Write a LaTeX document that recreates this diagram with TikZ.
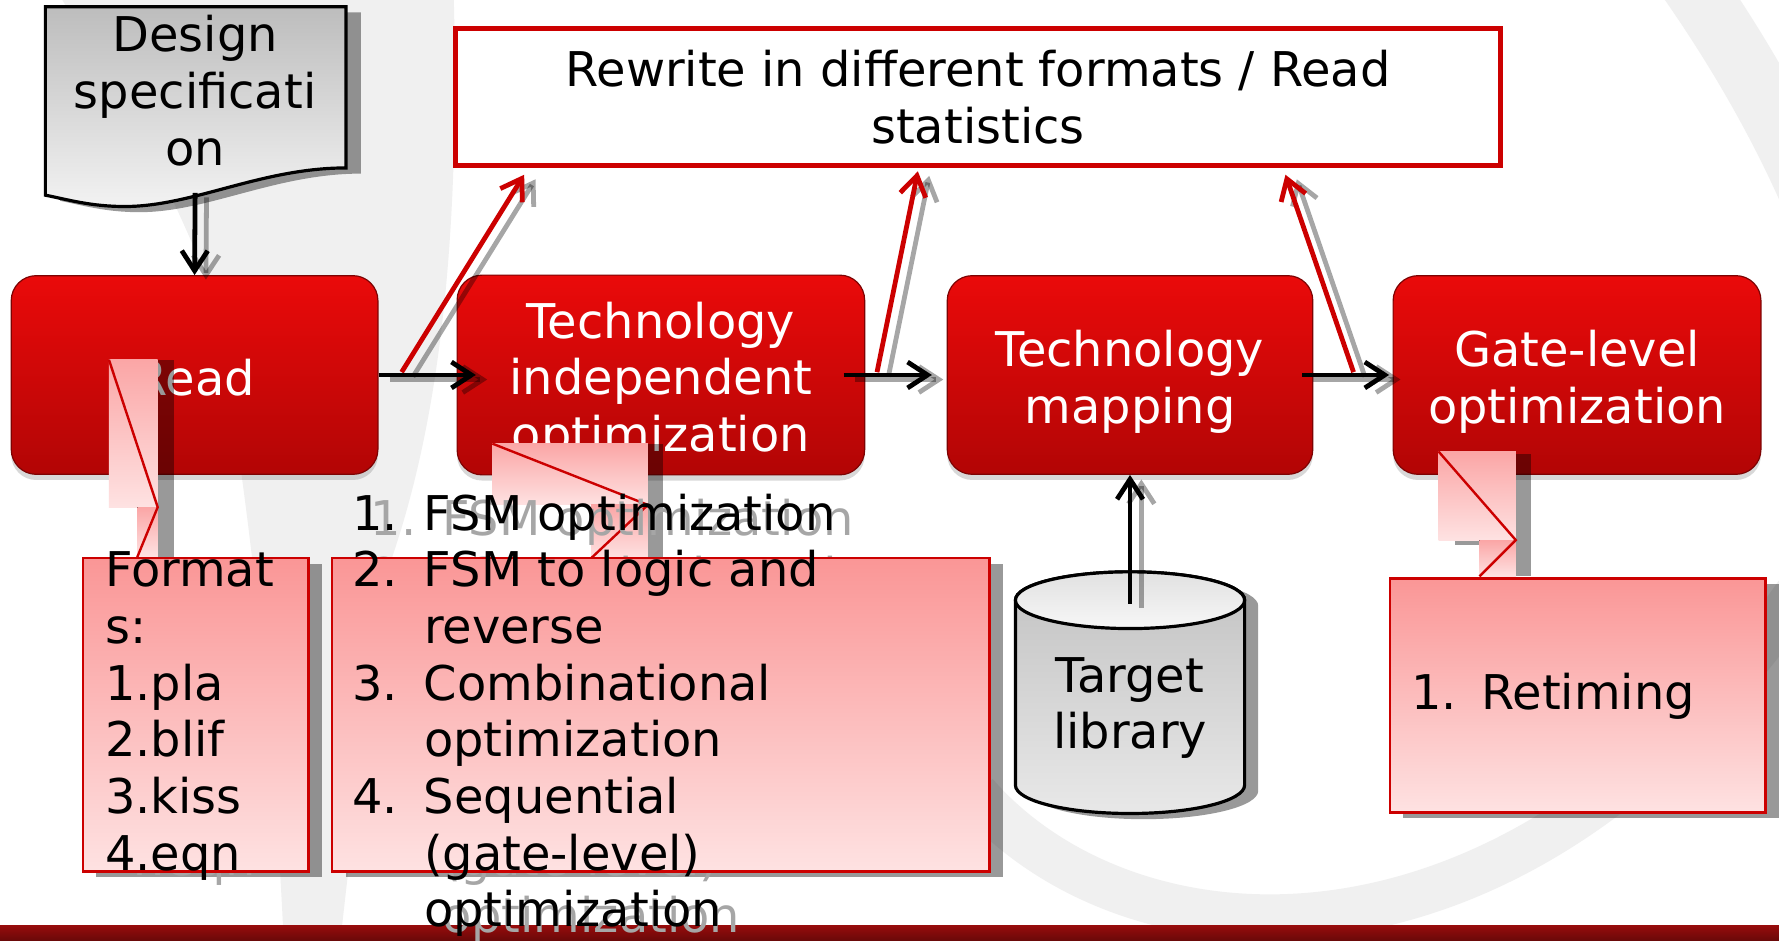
\documentclass[tikz,border=0pt]{standalone}
\usepackage{fontspec}
\setmainfont{DejaVu Sans}
\usetikzlibrary{arrows.meta,shadows}

\definecolor{stagetop}{RGB}{234,10,10}
\definecolor{stagebot}{RGB}{178,5,5}
\definecolor{noteedge}{RGB}{204,0,0}
\definecolor{notetop}{RGB}{250,150,150}
\definecolor{notebot}{RGB}{254,226,226}
\definecolor{swoosh}{RGB}{240,240,240}
\definecolor{barred}{RGB}{150,12,12}

\newcommand\optlist{%
  \begin{tabular}{@{}p{0.63cm}@{}l@{}}
    1. & FSM optimization\\
    2. & FSM to logic and\\
       & reverse\\
    3. & Combinational\\
       & optimization\\
    4. & Sequential\\
       & (gate-level)\\
       & optimization
  \end{tabular}}

\newcommand\fmtlist{%
  \begin{tabular}{@{}l@{}}
    Format\\ s:\\ 1.pla\\ 2.blif\\ 3.kiss\\ 4.eqn
  \end{tabular}}

% first line of a stage label, pushed down a little
\newcommand\hd{\rule{0pt}{12.5pt}}

\begin{document}
\begin{tikzpicture}[x=0.01cm, y=-0.01cm,
    stage/.style = {rectangle, rounded corners=0.22cm, top color=stagetop, bottom color=stagebot,
                    draw=stagebot!70!black, line width=0.3pt, minimum height=1.75cm,
                    text=white, align=center, font=\fontsize{12}{14.2}\selectfont,
                    drop shadow={opacity=0.3, shadow xshift=0pt, shadow yshift=-0.05cm}},
    note/.style = {rectangle, top color=notetop, bottom color=notebot, draw=noteedge, line width=0.6pt},
    strip/.style = {top color=notetop!85!white, bottom color=notebot},
    ghost/.style = {fill=black, opacity=0.4},
    listtext/.style = {anchor=west, inner sep=0pt, font=\fontsize{12}{14.2}\selectfont},
    flow/.style = {draw=black, line width=1.2pt, -{Straight Barb[length=5pt, width=6.5pt]}},
    upflow/.style = {draw=noteedge, line width=1.2pt, -{Straight Barb[length=5pt, width=6.5pt]}},
    flowghost/.style = {draw=black, opacity=0.35, transform canvas={xshift=0.1cm, yshift=-0.04cm}}
]
\useasboundingbox (0,0) rectangle (1568,829);
\fill[white] (0,0) rectangle (1568,829);

% background swooshes
\fill[swoosh] (55,0) -- (400,0) .. controls (405,200) and (390,380) .. (335,520)
              -- (300,829) -- (250,829) .. controls (240,600) and (205,320) .. (180,240)
              .. controls (140,140) and (90,60) .. cycle;
\draw[swoosh, line width=0.55cm] (1480,-30) .. controls (1530,40) and (1570,110) .. (1600,180);
\draw[swoosh, line width=0.4cm] (860,700) .. controls (1000,860) and (1350,880) .. (1600,500);

% bottom bar
\shade[top color=barred, bottom color=barred!70!black] (0,816) rectangle (1568,829);

% top box
\node[draw=noteedge, line width=1.2pt, fill=white, minimum width=9.2cm, minimum height=1.21cm,
      align=center, font=\fontsize{12}{14.2}\selectfont] (rewrite) at (862,85.5)
      {Rewrite in different formats / Read\\statistics};

% design specification document
\fill[ghost, transform canvas={xshift=0.13cm, yshift=-0.05cm}] (40,6) -- (305,6) -- (305,148)
      .. controls (230,148) and (170,182) .. (110,182) .. controls (80,182) and (60,176) .. (40,172) -- cycle;
\draw[top color=black!26, bottom color=black!5, line width=0.8pt] (40,6) -- (305,6) -- (305,148)
      .. controls (230,148) and (170,182) .. (110,182) .. controls (80,182) and (60,176) .. (40,172) -- cycle;
\node[align=center, font=\fontsize{12}{14.2}\selectfont] (spec) at (172,80) {Design\\specificati\\on};

% stages
\node[stage, minimum width=3.23cm] (read) at (171.5,330.5) {\rule{0pt}{10.5pt}Read};
\node[stage, minimum width=3.59cm] (techind) at (582.5,330.5) {\hd Technology\\independent\\optimization};
\node[stage, minimum width=3.22cm] (techmap) at (996,330.5) {\hd Technology\\mapping};
\node[stage, minimum width=3.24cm] (gatelvl) at (1390,330.5) {\hd Gate-level\\optimization};

% arrows to the top box
\coordinate (up1) at (354,328);
\coordinate (top1) at (462,154);
\coordinate (up2) at (773,328);
\coordinate (top2) at (809,151);
\coordinate (up3) at (1193,328);
\coordinate (top3) at (1133,154);
\draw[upflow, flowghost] (up1) -- (top1);
\draw[upflow, flowghost] (up2) -- (top2);
\draw[upflow, flowghost] (up3) -- (top3);
\draw[upflow] (up1) -- (top1);
\draw[upflow] (up2) -- (top2);
\draw[upflow] (up3) -- (top3);

% main flow
\coordinate (specfoot) at (172,170);
\draw[flow, flowghost] (specfoot) -- (read.north);
\draw[flow] (specfoot) -- (read.north);
\draw[flow, flowghost, shorten >=-0.17cm] (read.east) -- (techind.west);
\draw[flow, shorten >=-0.17cm] (read.east) -- (techind.west);
\draw[flow, flowghost, shorten <=-0.19cm, shorten >=0.13cm] (techind.east) -- (techmap.west);
\draw[flow, shorten <=-0.19cm, shorten >=0.13cm] (techind.east) -- (techmap.west);
\draw[flow, flowghost, shorten <=-0.10cm, shorten >=0.03cm] (techmap.east) -- (gatelvl.west);
\draw[flow, shorten <=-0.10cm, shorten >=0.03cm] (techmap.east) -- (gatelvl.west);

% formats callout
\fill[ghost] (85,497) rectangle (284,773);
\fill[ghost] (139,317) rectangle (153,491);
\fill[strip] (96,317) rectangle (139,447);
\fill[strip] (121,447) rectangle (139,491);
\draw[noteedge, line width=0.6pt] (96,317) -- (139,447) -- (121,491);
\node[listtext, text=black!35] at (105,637) {\fmtlist};
\node[note, minimum width=1.99cm, minimum height=2.76cm] (fmtnote) at (172.5,630) {};
\node[listtext] (fmt) at (92,632) {\fmtlist};

% optimization callout
\fill[ghost] (305,497) rectangle (884,773);
\fill[ghost] (571,391) rectangle (584,492);
\fill[strip] (434,391) rectangle (571,445);
\fill[strip] (521,445) rectangle (571,492);
\draw[noteedge, line width=0.6pt] (434,391) -- (571,445) -- (521,492);
\node[listtext, text=black!35] at (326,637) {\optlist};
\node[note, minimum width=5.79cm, minimum height=2.76cm] (optnote) at (582.5,630) {};
\node[listtext] (opt) at (310,632) {\optlist};

% retiming callout
\fill[ghost] (1237,515) rectangle (1568,721);
\fill[ghost] (1336,400) rectangle (1349,508);
\fill[ghost] (1282,476) rectangle (1336,480);
\fill[strip] (1268,398) rectangle (1336,476);
\fill[strip] (1304,476) rectangle (1336,508);
\draw[noteedge, line width=0.6pt] (1268,398) -- (1336,476) -- (1304,508);
\node[note, minimum width=3.31cm, minimum height=2.06cm] (retnote) at (1390.5,613) {};
\node[listtext] (ret) at (1243,615) {\begin{tabular}{@{}p{0.62cm}@{}l@{}}1. & Retiming\end{tabular}};

% target library
\fill[ghost, transform canvas={xshift=0.12cm, yshift=-0.05cm}] (895,529) -- (895,692)
      arc[start angle=180, end angle=0, x radius=101, y radius=25] -- (1097,529)
      arc[start angle=0, end angle=-180, x radius=101, y radius=25] -- cycle;
\draw[top color=black!24, bottom color=black!9, line width=0.8pt] (895,529) -- (895,692)
      arc[start angle=180, end angle=0, x radius=101, y radius=25] -- (1097,529)
      arc[start angle=0, end angle=-180, x radius=101, y radius=25] -- cycle;
\draw[top color=black!12, bottom color=black!3, line width=0.8pt] (996,529) ellipse [x radius=101, y radius=25];
\node[align=center, font=\fontsize{12}{14.2}\selectfont] (lib) at (996,624) {Target\\library};
\coordinate (libtop) at (996,532);
\draw[flow, flowghost] (libtop) -- (techmap.south);
\draw[flow] (libtop) -- (techmap.south);
\end{tikzpicture}
\end{document}
